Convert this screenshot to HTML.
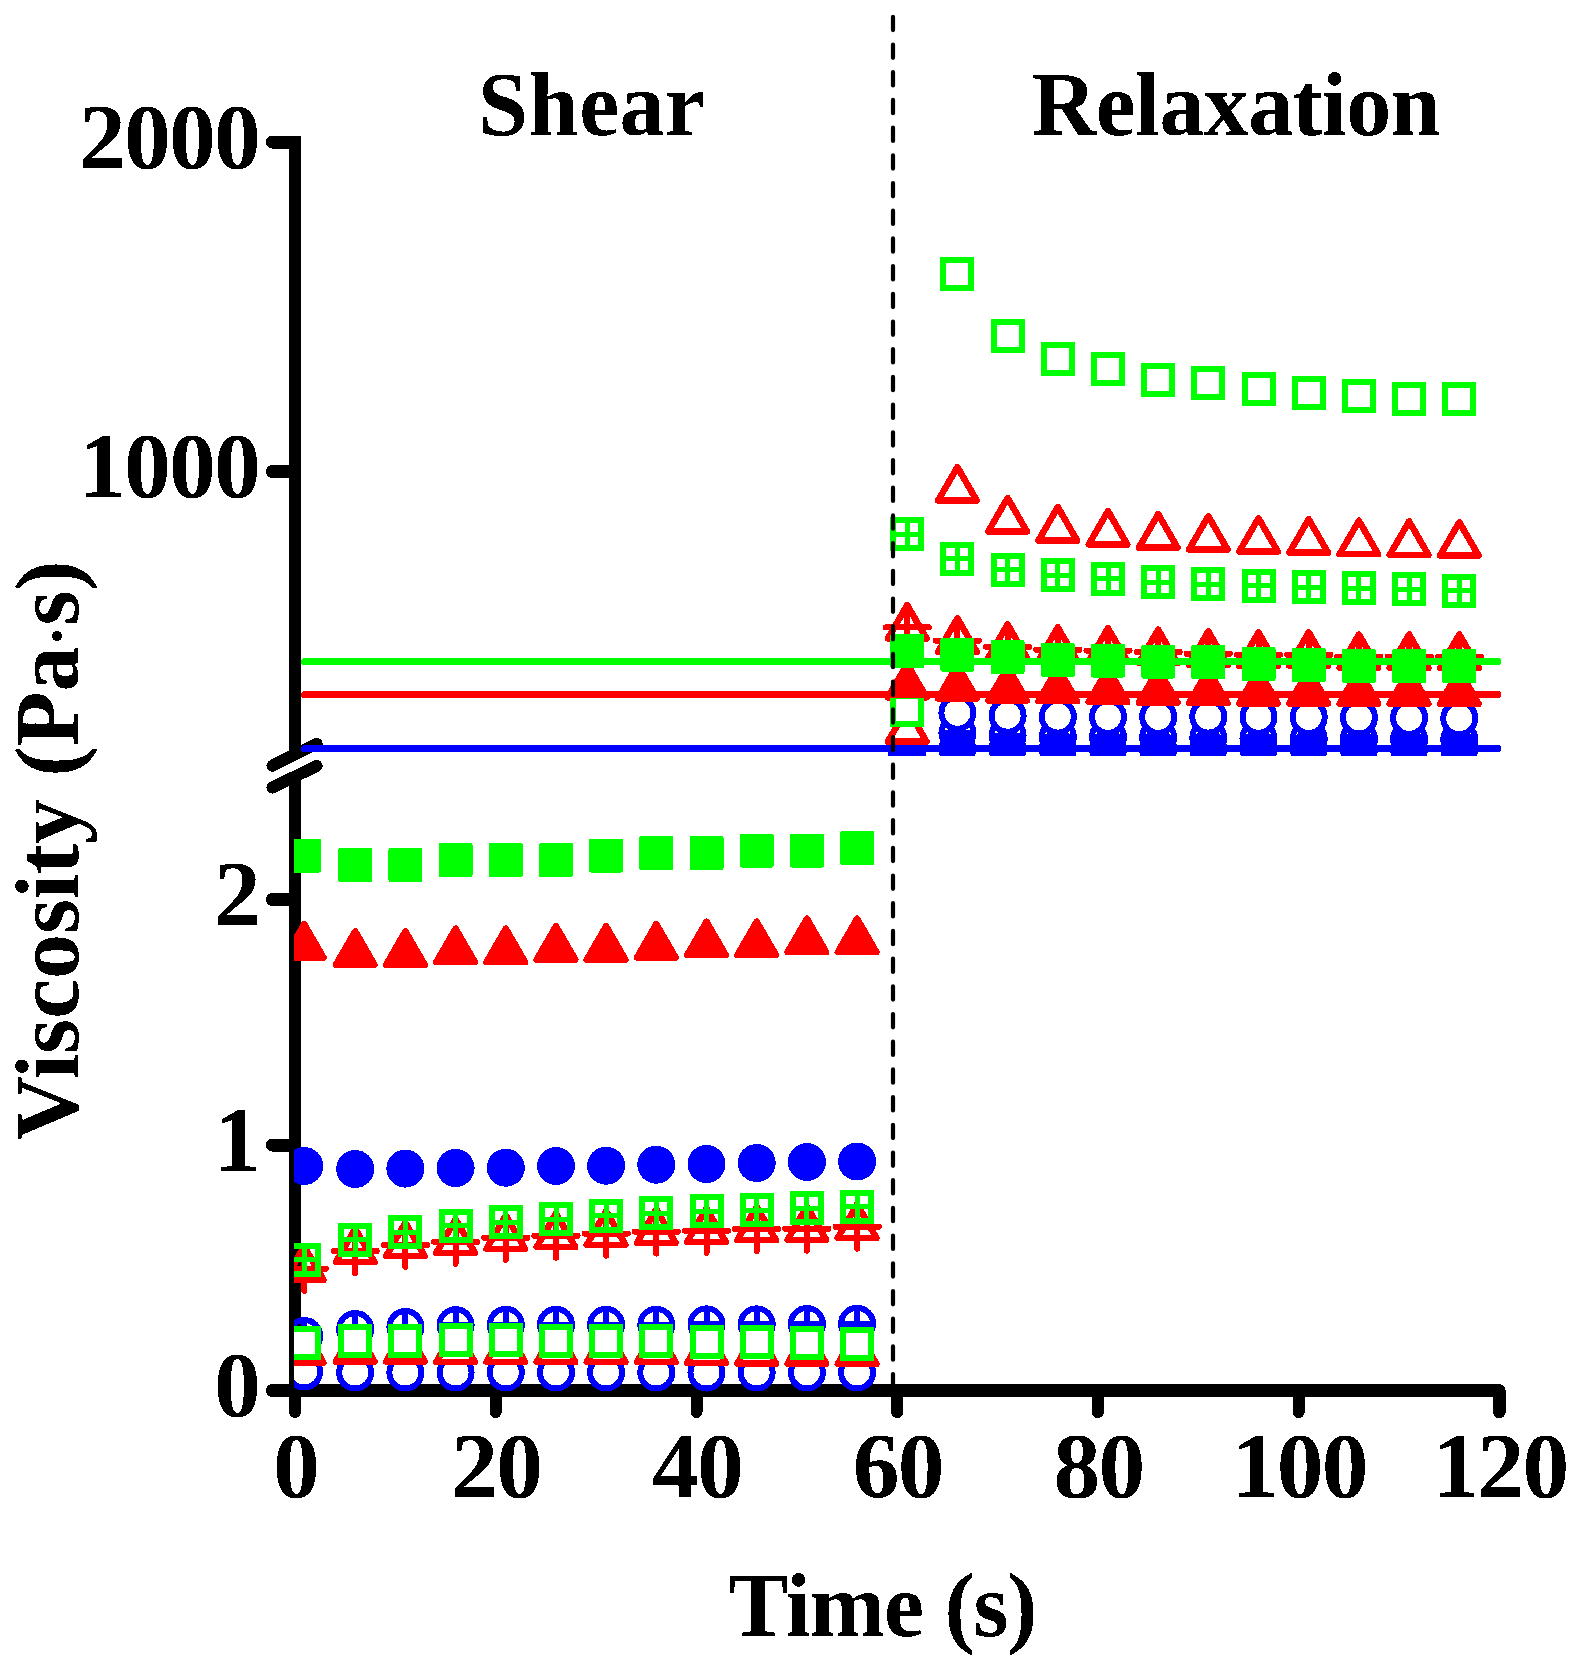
<!DOCTYPE html>
<html lang="en">
<head>
<meta charset="utf-8">
<title>Viscosity vs Time: Shear and Relaxation</title>
<style>
html,body{margin:0;padding:0;background:#fff;}
body{width:1578px;height:1670px;overflow:hidden;}
svg{display:block;}
</style>
</head>
<body>
<svg width="1578" height="1670" viewBox="0 0 1578 1670" shape-rendering="crispEdges">
<defs>
<clipPath id="clipLo"><rect x="294" y="776" width="1300" height="700"/></clipPath>
<filter id="crisp" x="-5%" y="-5%" width="110%" height="110%" color-interpolation-filters="sRGB"><feComponentTransfer><feFuncA type="discrete" tableValues="0 1"/></feComponentTransfer></filter>
<clipPath id="clipHi"><rect x="294" y="100" width="1300" height="656"/></clipPath>
</defs>
<rect width="1578" height="1670" fill="#fff"/>
<g stroke="#000" stroke-width="12" fill="none">
<path d="M295 136V757"/>
<path d="M295 776V1390.5"/>
<path d="M289 1390.5H1499.4" stroke-width="12.6"/>
</g>
<g stroke="#000" stroke-width="12" stroke-linecap="round" stroke-linejoin="round" fill="none">
<path d="M272.5 142H295" stroke-width="13"/>
<path d="M272.5 471.5H295" stroke-width="13"/>
<path d="M272.5 899.5H295" stroke-width="13"/>
<path d="M272.5 1145H295" stroke-width="13"/>
<path d="M272 1390.5H295" stroke-width="12.6"/>
<path d="M295 1390.5V1412"/>
<path d="M495.7 1390.5V1412"/>
<path d="M696.5 1390.5V1412"/>
<path d="M897.2 1390.5V1412"/>
<path d="M1097.9 1390.5V1412"/>
<path d="M1298.7 1390.5V1412"/>
<path d="M1499.4 1390.5V1412"/>
<path d="M1480 1390.5H1499.4V1412" stroke-width="12.6"/>
<path d="M272.5 765.7L316.6 743.7"/>
<path d="M272.5 787.5L316.6 765.9"/>
</g>
<g clip-path="url(#clipLo)">
<g><circle cx="304.2" cy="1166" r="19" fill="#0000ff"/><circle cx="355.2" cy="1169" r="19" fill="#0000ff"/><circle cx="405.4" cy="1168.6" r="19" fill="#0000ff"/><circle cx="455.6" cy="1168" r="19" fill="#0000ff"/><circle cx="505.8" cy="1167.7" r="19" fill="#0000ff"/><circle cx="556" cy="1166" r="19" fill="#0000ff"/><circle cx="606.1" cy="1165.7" r="19" fill="#0000ff"/><circle cx="656.3" cy="1164.7" r="19" fill="#0000ff"/><circle cx="706.5" cy="1164" r="19" fill="#0000ff"/><circle cx="756.7" cy="1163" r="19" fill="#0000ff"/><circle cx="806.9" cy="1162" r="19" fill="#0000ff"/><circle cx="857.1" cy="1161.5" r="19" fill="#0000ff"/></g>
<g><g stroke="#0000ff" stroke-width="6" fill="none"><circle cx="304.2" cy="1336" r="16"/><path d="M288.2 1336H320.2M304.2 1320V1352"/></g><g stroke="#0000ff" stroke-width="6" fill="none"><circle cx="355.2" cy="1329" r="16"/><path d="M339.2 1329H371.2M355.2 1313V1345"/></g><g stroke="#0000ff" stroke-width="6" fill="none"><circle cx="405.4" cy="1327" r="16"/><path d="M389.4 1327H421.4M405.4 1311V1343"/></g><g stroke="#0000ff" stroke-width="6" fill="none"><circle cx="455.6" cy="1325.2" r="16"/><path d="M439.6 1325.2H471.6M455.6 1309.2V1341.2"/></g><g stroke="#0000ff" stroke-width="6" fill="none"><circle cx="505.8" cy="1324.8" r="16"/><path d="M489.8 1324.8H521.8M505.8 1308.8V1340.8"/></g><g stroke="#0000ff" stroke-width="6" fill="none"><circle cx="556" cy="1324.8" r="16"/><path d="M540 1324.8H572M556 1308.8V1340.8"/></g><g stroke="#0000ff" stroke-width="6" fill="none"><circle cx="606.1" cy="1324.8" r="16"/><path d="M590.1 1324.8H622.1M606.1 1308.8V1340.8"/></g><g stroke="#0000ff" stroke-width="6" fill="none"><circle cx="656.3" cy="1324.8" r="16"/><path d="M640.3 1324.8H672.3M656.3 1308.8V1340.8"/></g><g stroke="#0000ff" stroke-width="6" fill="none"><circle cx="706.5" cy="1324.4" r="16"/><path d="M690.5 1324.4H722.5M706.5 1308.4V1340.4"/></g><g stroke="#0000ff" stroke-width="6" fill="none"><circle cx="756.7" cy="1324.4" r="16"/><path d="M740.7 1324.4H772.7M756.7 1308.4V1340.4"/></g><g stroke="#0000ff" stroke-width="6" fill="none"><circle cx="806.9" cy="1324" r="16"/><path d="M790.9 1324H822.9M806.9 1308V1340"/></g><g stroke="#0000ff" stroke-width="6" fill="none"><circle cx="857.1" cy="1323.8" r="16"/><path d="M841.1 1323.8H873.1M857.1 1307.8V1339.8"/></g></g>
<g><circle cx="304.2" cy="1371.5" r="16" fill="#fff" stroke="#0000ff" stroke-width="6"/><circle cx="355.2" cy="1372.5" r="16" fill="#fff" stroke="#0000ff" stroke-width="6"/><circle cx="405.4" cy="1372.5" r="16" fill="#fff" stroke="#0000ff" stroke-width="6"/><circle cx="455.6" cy="1372.5" r="16" fill="#fff" stroke="#0000ff" stroke-width="6"/><circle cx="505.8" cy="1372.5" r="16" fill="#fff" stroke="#0000ff" stroke-width="6"/><circle cx="556" cy="1372.5" r="16" fill="#fff" stroke="#0000ff" stroke-width="6"/><circle cx="606.1" cy="1372.5" r="16" fill="#fff" stroke="#0000ff" stroke-width="6"/><circle cx="656.3" cy="1372.5" r="16" fill="#fff" stroke="#0000ff" stroke-width="6"/><circle cx="706.5" cy="1372.5" r="16" fill="#fff" stroke="#0000ff" stroke-width="6"/><circle cx="756.7" cy="1372.5" r="16" fill="#fff" stroke="#0000ff" stroke-width="6"/><circle cx="806.9" cy="1372.5" r="16" fill="#fff" stroke="#0000ff" stroke-width="6"/><circle cx="857.1" cy="1372.5" r="16" fill="#fff" stroke="#0000ff" stroke-width="6"/></g>
<g><polygon points="304.2,924.2 284.9,957.6 323.5,957.6" fill="#ff0000" stroke="#ff0000" stroke-width="6.5" stroke-linejoin="round"/><polygon points="355.2,931.3 335.9,964.8 374.5,964.8" fill="#ff0000" stroke="#ff0000" stroke-width="6.5" stroke-linejoin="round"/><polygon points="405.4,931.3 386.1,964.8 424.7,964.8" fill="#ff0000" stroke="#ff0000" stroke-width="6.5" stroke-linejoin="round"/><polygon points="455.6,928.7 436.3,962.1 474.9,962.1" fill="#ff0000" stroke="#ff0000" stroke-width="6.5" stroke-linejoin="round"/><polygon points="505.8,928.7 486.5,962.1 525.1,962.1" fill="#ff0000" stroke="#ff0000" stroke-width="6.5" stroke-linejoin="round"/><polygon points="556,926.2 536.7,959.6 575.3,959.6" fill="#ff0000" stroke="#ff0000" stroke-width="6.5" stroke-linejoin="round"/><polygon points="606.1,926.2 586.8,959.6 625.4,959.6" fill="#ff0000" stroke="#ff0000" stroke-width="6.5" stroke-linejoin="round"/><polygon points="656.3,924.1 637,957.5 675.6,957.5" fill="#ff0000" stroke="#ff0000" stroke-width="6.5" stroke-linejoin="round"/><polygon points="706.5,921.7 687.2,955.1 725.8,955.1" fill="#ff0000" stroke="#ff0000" stroke-width="6.5" stroke-linejoin="round"/><polygon points="756.7,921.7 737.4,955.1 776,955.1" fill="#ff0000" stroke="#ff0000" stroke-width="6.5" stroke-linejoin="round"/><polygon points="806.9,918.7 787.6,952.1 826.2,952.1" fill="#ff0000" stroke="#ff0000" stroke-width="6.5" stroke-linejoin="round"/><polygon points="857.1,918.7 837.8,952.1 876.4,952.1" fill="#ff0000" stroke="#ff0000" stroke-width="6.5" stroke-linejoin="round"/></g>
<g><g stroke="#ff0000" fill="none" stroke-linejoin="round" stroke-linecap="round"><polygon points="304.2,1246.4 284.9,1279.9 323.5,1279.9" stroke-width="6.5"/><path stroke-width="6" d="M282.6 1268.7H325.8M304.2 1246.7V1290.7"/></g><g stroke="#ff0000" fill="none" stroke-linejoin="round" stroke-linecap="round"><polygon points="355.2,1228.7 335.9,1262.2 374.5,1262.2" stroke-width="6.5"/><path stroke-width="6" d="M333.6 1251H376.8M355.2 1229V1273"/></g><g stroke="#ff0000" fill="none" stroke-linejoin="round" stroke-linecap="round"><polygon points="405.4,1222.7 386.1,1256.2 424.7,1256.2" stroke-width="6.5"/><path stroke-width="6" d="M383.8 1245H427M405.4 1223V1267"/></g><g stroke="#ff0000" fill="none" stroke-linejoin="round" stroke-linecap="round"><polygon points="455.6,1219.4 436.3,1252.9 474.9,1252.9" stroke-width="6.5"/><path stroke-width="6" d="M434 1241.7H477.2M455.6 1219.7V1263.7"/></g><g stroke="#ff0000" fill="none" stroke-linejoin="round" stroke-linecap="round"><polygon points="505.8,1215.5 486.5,1249 525.1,1249" stroke-width="6.5"/><path stroke-width="6" d="M484.2 1237.8H527.4M505.8 1215.8V1259.8"/></g><g stroke="#ff0000" fill="none" stroke-linejoin="round" stroke-linecap="round"><polygon points="556,1213.5 536.7,1247 575.3,1247" stroke-width="6.5"/><path stroke-width="6" d="M534.4 1235.8H577.6M556 1213.8V1257.8"/></g><g stroke="#ff0000" fill="none" stroke-linejoin="round" stroke-linecap="round"><polygon points="606.1,1211.3 586.8,1244.8 625.4,1244.8" stroke-width="6.5"/><path stroke-width="6" d="M584.5 1233.6H627.7M606.1 1211.6V1255.6"/></g><g stroke="#ff0000" fill="none" stroke-linejoin="round" stroke-linecap="round"><polygon points="656.3,1209.3 637,1242.8 675.6,1242.8" stroke-width="6.5"/><path stroke-width="6" d="M634.7 1231.6H677.9M656.3 1209.6V1253.6"/></g><g stroke="#ff0000" fill="none" stroke-linejoin="round" stroke-linecap="round"><polygon points="706.5,1208.4 687.2,1241.9 725.8,1241.9" stroke-width="6.5"/><path stroke-width="6" d="M684.9 1230.7H728.1M706.5 1208.7V1252.7"/></g><g stroke="#ff0000" fill="none" stroke-linejoin="round" stroke-linecap="round"><polygon points="756.7,1206.8 737.4,1240.2 776,1240.2" stroke-width="6.5"/><path stroke-width="6" d="M735.1 1229.1H778.3M756.7 1207.1V1251.1"/></g><g stroke="#ff0000" fill="none" stroke-linejoin="round" stroke-linecap="round"><polygon points="806.9,1206.4 787.6,1239.9 826.2,1239.9" stroke-width="6.5"/><path stroke-width="6" d="M785.3 1228.7H828.5M806.9 1206.7V1250.7"/></g><g stroke="#ff0000" fill="none" stroke-linejoin="round" stroke-linecap="round"><polygon points="857.1,1204.4 837.8,1237.9 876.4,1237.9" stroke-width="6.5"/><path stroke-width="6" d="M835.5 1226.7H878.7M857.1 1204.7V1248.7"/></g></g>
<g><polygon points="304.2,1329.2 284.9,1362.7 323.5,1362.7" fill="#fff" stroke="#ff0000" stroke-width="6.5" stroke-linejoin="round"/><polygon points="355.2,1328.1 335.9,1361.6 374.5,1361.6" fill="#fff" stroke="#ff0000" stroke-width="6.5" stroke-linejoin="round"/><polygon points="405.4,1328.1 386.1,1361.6 424.7,1361.6" fill="#fff" stroke="#ff0000" stroke-width="6.5" stroke-linejoin="round"/><polygon points="455.6,1328.5 436.3,1362 474.9,1362" fill="#fff" stroke="#ff0000" stroke-width="6.5" stroke-linejoin="round"/><polygon points="505.8,1328.5 486.5,1362 525.1,1362" fill="#fff" stroke="#ff0000" stroke-width="6.5" stroke-linejoin="round"/><polygon points="556,1328.5 536.7,1362 575.3,1362" fill="#fff" stroke="#ff0000" stroke-width="6.5" stroke-linejoin="round"/><polygon points="606.1,1328.5 586.8,1362 625.4,1362" fill="#fff" stroke="#ff0000" stroke-width="6.5" stroke-linejoin="round"/><polygon points="656.3,1328.5 637,1362 675.6,1362" fill="#fff" stroke="#ff0000" stroke-width="6.5" stroke-linejoin="round"/><polygon points="706.5,1329.5 687.2,1363 725.8,1363" fill="#fff" stroke="#ff0000" stroke-width="6.5" stroke-linejoin="round"/><polygon points="756.7,1330.1 737.4,1363.6 776,1363.6" fill="#fff" stroke="#ff0000" stroke-width="6.5" stroke-linejoin="round"/><polygon points="806.9,1330.1 787.6,1363.6 826.2,1363.6" fill="#fff" stroke="#ff0000" stroke-width="6.5" stroke-linejoin="round"/><polygon points="857.1,1330.5 837.8,1364 876.4,1364" fill="#fff" stroke="#ff0000" stroke-width="6.5" stroke-linejoin="round"/></g>
<g><rect x="287.2" y="838.5" width="34" height="34" rx="2" fill="#00ff00"/><rect x="338.2" y="848" width="34" height="34" rx="2" fill="#00ff00"/><rect x="388.4" y="848" width="34" height="34" rx="2" fill="#00ff00"/><rect x="438.6" y="843" width="34" height="34" rx="2" fill="#00ff00"/><rect x="488.8" y="843" width="34" height="34" rx="2" fill="#00ff00"/><rect x="539" y="843" width="34" height="34" rx="2" fill="#00ff00"/><rect x="589.1" y="838.5" width="34" height="34" rx="2" fill="#00ff00"/><rect x="639.3" y="836" width="34" height="34" rx="2" fill="#00ff00"/><rect x="689.5" y="836" width="34" height="34" rx="2" fill="#00ff00"/><rect x="739.7" y="833.5" width="34" height="34" rx="2" fill="#00ff00"/><rect x="789.9" y="833.5" width="34" height="34" rx="2" fill="#00ff00"/><rect x="840.1" y="831" width="34" height="34" rx="2" fill="#00ff00"/></g>
<g><g stroke="#00ff00" fill="none"><rect x="290.2" y="1245.5" width="28" height="28" stroke-width="6"/><path stroke-width="5" d="M290.2 1259.5H318.2M304.2 1245.5V1273.5"/></g><g stroke="#00ff00" fill="none"><rect x="341.2" y="1225.6" width="28" height="28" stroke-width="6"/><path stroke-width="5" d="M341.2 1239.6H369.2M355.2 1225.6V1253.6"/></g><g stroke="#00ff00" fill="none"><rect x="391.4" y="1218" width="28" height="28" stroke-width="6"/><path stroke-width="5" d="M391.4 1232H419.4M405.4 1218V1246"/></g><g stroke="#00ff00" fill="none"><rect x="441.6" y="1211.8" width="28" height="28" stroke-width="6"/><path stroke-width="5" d="M441.6 1225.8H469.6M455.6 1211.8V1239.8"/></g><g stroke="#00ff00" fill="none"><rect x="491.8" y="1208" width="28" height="28" stroke-width="6"/><path stroke-width="5" d="M491.8 1222H519.8M505.8 1208V1236"/></g><g stroke="#00ff00" fill="none"><rect x="542" y="1205" width="28" height="28" stroke-width="6"/><path stroke-width="5" d="M542 1219H570M556 1205V1233"/></g><g stroke="#00ff00" fill="none"><rect x="592.1" y="1201.6" width="28" height="28" stroke-width="6"/><path stroke-width="5" d="M592.1 1215.6H620.1M606.1 1201.6V1229.6"/></g><g stroke="#00ff00" fill="none"><rect x="642.3" y="1199" width="28" height="28" stroke-width="6"/><path stroke-width="5" d="M642.3 1213H670.3M656.3 1199V1227"/></g><g stroke="#00ff00" fill="none"><rect x="692.5" y="1197" width="28" height="28" stroke-width="6"/><path stroke-width="5" d="M692.5 1211H720.5M706.5 1197V1225"/></g><g stroke="#00ff00" fill="none"><rect x="742.7" y="1196" width="28" height="28" stroke-width="6"/><path stroke-width="5" d="M742.7 1210H770.7M756.7 1196V1224"/></g><g stroke="#00ff00" fill="none"><rect x="792.9" y="1194" width="28" height="28" stroke-width="6"/><path stroke-width="5" d="M792.9 1208H820.9M806.9 1194V1222"/></g><g stroke="#00ff00" fill="none"><rect x="843.1" y="1192.8" width="28" height="28" stroke-width="6"/><path stroke-width="5" d="M843.1 1206.8H871.1M857.1 1192.8V1220.8"/></g></g>
<g><rect x="290.2" y="1329" width="28" height="28" fill="#fff" stroke="#00ff00" stroke-width="6"/><rect x="341.2" y="1327" width="28" height="28" fill="#fff" stroke="#00ff00" stroke-width="6"/><rect x="391.4" y="1327" width="28" height="28" fill="#fff" stroke="#00ff00" stroke-width="6"/><rect x="441.6" y="1326" width="28" height="28" fill="#fff" stroke="#00ff00" stroke-width="6"/><rect x="491.8" y="1326" width="28" height="28" fill="#fff" stroke="#00ff00" stroke-width="6"/><rect x="542" y="1326.5" width="28" height="28" fill="#fff" stroke="#00ff00" stroke-width="6"/><rect x="592.1" y="1327.1" width="28" height="28" fill="#fff" stroke="#00ff00" stroke-width="6"/><rect x="642.3" y="1327.1" width="28" height="28" fill="#fff" stroke="#00ff00" stroke-width="6"/><rect x="692.5" y="1328.1" width="28" height="28" fill="#fff" stroke="#00ff00" stroke-width="6"/><rect x="742.7" y="1328.1" width="28" height="28" fill="#fff" stroke="#00ff00" stroke-width="6"/><rect x="792.9" y="1329.1" width="28" height="28" fill="#fff" stroke="#00ff00" stroke-width="6"/><rect x="843.1" y="1329.5" width="28" height="28" fill="#fff" stroke="#00ff00" stroke-width="6"/></g>
</g>
<g clip-path="url(#clipHi)">
<g><circle cx="907.2" cy="754" r="19" fill="#0000ff"/><circle cx="957.4" cy="749" r="19" fill="#0000ff"/><circle cx="1007.6" cy="749" r="19" fill="#0000ff"/><circle cx="1057.8" cy="749" r="19" fill="#0000ff"/><circle cx="1108" cy="749" r="19" fill="#0000ff"/><circle cx="1158.2" cy="749" r="19" fill="#0000ff"/><circle cx="1208.3" cy="749" r="19" fill="#0000ff"/><circle cx="1258.5" cy="749" r="19" fill="#0000ff"/><circle cx="1308.7" cy="749" r="19" fill="#0000ff"/><circle cx="1358.9" cy="749" r="19" fill="#0000ff"/><circle cx="1409.1" cy="749" r="19" fill="#0000ff"/><circle cx="1459.3" cy="749" r="19" fill="#0000ff"/></g>
<g><g stroke="#0000ff" stroke-width="6" fill="none"><circle cx="907.2" cy="790" r="16"/><path d="M891.2 790H923.2M907.2 774V806"/></g><g stroke="#0000ff" stroke-width="6" fill="none"><circle cx="957.4" cy="733" r="16"/><path d="M941.4 733H973.4M957.4 717V749"/></g><g stroke="#0000ff" stroke-width="6" fill="none"><circle cx="1007.6" cy="735.5" r="16"/><path d="M991.6 735.5H1023.6M1007.6 719.5V751.5"/></g><g stroke="#0000ff" stroke-width="6" fill="none"><circle cx="1057.8" cy="737" r="16"/><path d="M1041.8 737H1073.8M1057.8 721V753"/></g><g stroke="#0000ff" stroke-width="6" fill="none"><circle cx="1108" cy="737" r="16"/><path d="M1092 737H1124M1108 721V753"/></g><g stroke="#0000ff" stroke-width="6" fill="none"><circle cx="1158.2" cy="737.5" r="16"/><path d="M1142.2 737.5H1174.2M1158.2 721.5V753.5"/></g><g stroke="#0000ff" stroke-width="6" fill="none"><circle cx="1208.3" cy="738" r="16"/><path d="M1192.3 738H1224.3M1208.3 722V754"/></g><g stroke="#0000ff" stroke-width="6" fill="none"><circle cx="1258.5" cy="738.5" r="16"/><path d="M1242.5 738.5H1274.5M1258.5 722.5V754.5"/></g><g stroke="#0000ff" stroke-width="6" fill="none"><circle cx="1308.7" cy="739" r="16"/><path d="M1292.7 739H1324.7M1308.7 723V755"/></g><g stroke="#0000ff" stroke-width="6" fill="none"><circle cx="1358.9" cy="739" r="16"/><path d="M1342.9 739H1374.9M1358.9 723V755"/></g><g stroke="#0000ff" stroke-width="6" fill="none"><circle cx="1409.1" cy="739.5" r="16"/><path d="M1393.1 739.5H1425.1M1409.1 723.5V755.5"/></g><g stroke="#0000ff" stroke-width="6" fill="none"><circle cx="1459.3" cy="739.5" r="16"/><path d="M1443.3 739.5H1475.3M1459.3 723.5V755.5"/></g></g>
<g><circle cx="907.2" cy="790" r="16" fill="#fff" stroke="#0000ff" stroke-width="6"/><circle cx="957.4" cy="712.8" r="16" fill="#fff" stroke="#0000ff" stroke-width="6"/><circle cx="1007.6" cy="715.7" r="16" fill="#fff" stroke="#0000ff" stroke-width="6"/><circle cx="1057.8" cy="716.6" r="16" fill="#fff" stroke="#0000ff" stroke-width="6"/><circle cx="1108" cy="716.9" r="16" fill="#fff" stroke="#0000ff" stroke-width="6"/><circle cx="1158.2" cy="716.8" r="16" fill="#fff" stroke="#0000ff" stroke-width="6"/><circle cx="1208.3" cy="716.6" r="16" fill="#fff" stroke="#0000ff" stroke-width="6"/><circle cx="1258.5" cy="716.8" r="16" fill="#fff" stroke="#0000ff" stroke-width="6"/><circle cx="1308.7" cy="717" r="16" fill="#fff" stroke="#0000ff" stroke-width="6"/><circle cx="1358.9" cy="717.4" r="16" fill="#fff" stroke="#0000ff" stroke-width="6"/><circle cx="1409.1" cy="717.8" r="16" fill="#fff" stroke="#0000ff" stroke-width="6"/><circle cx="1459.3" cy="718.2" r="16" fill="#fff" stroke="#0000ff" stroke-width="6"/></g>
<g><polygon points="907.2,664 887.9,697.4 926.5,697.4" fill="#ff0000" stroke="#ff0000" stroke-width="6.5" stroke-linejoin="round"/><polygon points="957.4,665.1 938.1,698.5 976.7,698.5" fill="#ff0000" stroke="#ff0000" stroke-width="6.5" stroke-linejoin="round"/><polygon points="1007.6,667.1 988.3,700.5 1026.9,700.5" fill="#ff0000" stroke="#ff0000" stroke-width="6.5" stroke-linejoin="round"/><polygon points="1057.8,667.7 1038.5,701.1 1077.1,701.1" fill="#ff0000" stroke="#ff0000" stroke-width="6.5" stroke-linejoin="round"/><polygon points="1108,668.6 1088.7,702 1127.3,702" fill="#ff0000" stroke="#ff0000" stroke-width="6.5" stroke-linejoin="round"/><polygon points="1158.2,669.2 1138.9,702.6 1177.5,702.6" fill="#ff0000" stroke="#ff0000" stroke-width="6.5" stroke-linejoin="round"/><polygon points="1208.3,669.7 1189,703.1 1227.6,703.1" fill="#ff0000" stroke="#ff0000" stroke-width="6.5" stroke-linejoin="round"/><polygon points="1258.5,670 1239.2,703.4 1277.8,703.4" fill="#ff0000" stroke="#ff0000" stroke-width="6.5" stroke-linejoin="round"/><polygon points="1308.7,670 1289.4,703.4 1328,703.4" fill="#ff0000" stroke="#ff0000" stroke-width="6.5" stroke-linejoin="round"/><polygon points="1358.9,670.1 1339.6,703.5 1378.2,703.5" fill="#ff0000" stroke="#ff0000" stroke-width="6.5" stroke-linejoin="round"/><polygon points="1409.1,670.2 1389.8,703.6 1428.4,703.6" fill="#ff0000" stroke="#ff0000" stroke-width="6.5" stroke-linejoin="round"/><polygon points="1459.3,670.3 1440,703.8 1478.6,703.8" fill="#ff0000" stroke="#ff0000" stroke-width="6.5" stroke-linejoin="round"/></g>
<g><g stroke="#ff0000" fill="none" stroke-linejoin="round" stroke-linecap="round"><polygon points="907.2,605.1 887.9,638.5 926.5,638.5" stroke-width="6.5"/><path stroke-width="6" d="M885.6 627.4H928.8M907.2 605.4V649.4"/></g><g stroke="#ff0000" fill="none" stroke-linejoin="round" stroke-linecap="round"><polygon points="957.4,618.3 938.1,651.8 976.7,651.8" stroke-width="6.5"/><path stroke-width="6" d="M935.8 640.6H979M957.4 618.6V662.6"/></g><g stroke="#ff0000" fill="none" stroke-linejoin="round" stroke-linecap="round"><polygon points="1007.6,624.4 988.3,657.9 1026.9,657.9" stroke-width="6.5"/><path stroke-width="6" d="M986 646.7H1029.2M1007.6 624.7V668.7"/></g><g stroke="#ff0000" fill="none" stroke-linejoin="round" stroke-linecap="round"><polygon points="1057.8,627.4 1038.5,660.9 1077.1,660.9" stroke-width="6.5"/><path stroke-width="6" d="M1036.2 649.7H1079.4M1057.8 627.7V671.7"/></g><g stroke="#ff0000" fill="none" stroke-linejoin="round" stroke-linecap="round"><polygon points="1108,628.2 1088.7,661.6 1127.3,661.6" stroke-width="6.5"/><path stroke-width="6" d="M1086.4 650.5H1129.6M1108 628.5V672.5"/></g><g stroke="#ff0000" fill="none" stroke-linejoin="round" stroke-linecap="round"><polygon points="1158.2,629.7 1138.9,663.1 1177.5,663.1" stroke-width="6.5"/><path stroke-width="6" d="M1136.6 652H1179.8M1158.2 630V674"/></g><g stroke="#ff0000" fill="none" stroke-linejoin="round" stroke-linecap="round"><polygon points="1208.3,631.4 1189,664.9 1227.6,664.9" stroke-width="6.5"/><path stroke-width="6" d="M1186.7 653.7H1229.9M1208.3 631.7V675.7"/></g><g stroke="#ff0000" fill="none" stroke-linejoin="round" stroke-linecap="round"><polygon points="1258.5,632.4 1239.2,665.9 1277.8,665.9" stroke-width="6.5"/><path stroke-width="6" d="M1236.9 654.7H1280.1M1258.5 632.7V676.7"/></g><g stroke="#ff0000" fill="none" stroke-linejoin="round" stroke-linecap="round"><polygon points="1308.7,632.4 1289.4,665.9 1328,665.9" stroke-width="6.5"/><path stroke-width="6" d="M1287.1 654.7H1330.3M1308.7 632.7V676.7"/></g><g stroke="#ff0000" fill="none" stroke-linejoin="round" stroke-linecap="round"><polygon points="1358.9,634.5 1339.6,667.9 1378.2,667.9" stroke-width="6.5"/><path stroke-width="6" d="M1337.3 656.8H1380.5M1358.9 634.8V678.8"/></g><g stroke="#ff0000" fill="none" stroke-linejoin="round" stroke-linecap="round"><polygon points="1409.1,634.5 1389.8,667.9 1428.4,667.9" stroke-width="6.5"/><path stroke-width="6" d="M1387.5 656.8H1430.7M1409.1 634.8V678.8"/></g><g stroke="#ff0000" fill="none" stroke-linejoin="round" stroke-linecap="round"><polygon points="1459.3,634.5 1440,667.9 1478.6,667.9" stroke-width="6.5"/><path stroke-width="6" d="M1437.7 656.8H1480.9M1459.3 634.8V678.8"/></g></g>
<g><polygon points="907.2,708.2 887.9,741.6 926.5,741.6" fill="#fff" stroke="#ff0000" stroke-width="6.5" stroke-linejoin="round"/><polygon points="957.4,467.1 938.1,500.5 976.7,500.5" fill="#fff" stroke="#ff0000" stroke-width="6.5" stroke-linejoin="round"/><polygon points="1007.6,498 988.3,531.4 1026.9,531.4" fill="#fff" stroke="#ff0000" stroke-width="6.5" stroke-linejoin="round"/><polygon points="1057.8,507.1 1038.5,540.5 1077.1,540.5" fill="#fff" stroke="#ff0000" stroke-width="6.5" stroke-linejoin="round"/><polygon points="1108,511.1 1088.7,544.5 1127.3,544.5" fill="#fff" stroke="#ff0000" stroke-width="6.5" stroke-linejoin="round"/><polygon points="1158.2,514.2 1138.9,547.6 1177.5,547.6" fill="#fff" stroke="#ff0000" stroke-width="6.5" stroke-linejoin="round"/><polygon points="1208.3,516.2 1189,549.6 1227.6,549.6" fill="#fff" stroke="#ff0000" stroke-width="6.5" stroke-linejoin="round"/><polygon points="1258.5,518.2 1239.2,551.6 1277.8,551.6" fill="#fff" stroke="#ff0000" stroke-width="6.5" stroke-linejoin="round"/><polygon points="1308.7,519.2 1289.4,552.6 1328,552.6" fill="#fff" stroke="#ff0000" stroke-width="6.5" stroke-linejoin="round"/><polygon points="1358.9,520.8 1339.6,554.2 1378.2,554.2" fill="#fff" stroke="#ff0000" stroke-width="6.5" stroke-linejoin="round"/><polygon points="1409.1,521.4 1389.8,554.9 1428.4,554.9" fill="#fff" stroke="#ff0000" stroke-width="6.5" stroke-linejoin="round"/><polygon points="1459.3,522.2 1440,555.6 1478.6,555.6" fill="#fff" stroke="#ff0000" stroke-width="6.5" stroke-linejoin="round"/></g>
<g><rect x="890.2" y="634" width="34" height="34" rx="2" fill="#00ff00"/><rect x="940.4" y="637.7" width="34" height="34" rx="2" fill="#00ff00"/><rect x="990.6" y="640" width="34" height="34" rx="2" fill="#00ff00"/><rect x="1040.8" y="642.8" width="34" height="34" rx="2" fill="#00ff00"/><rect x="1091" y="643.5" width="34" height="34" rx="2" fill="#00ff00"/><rect x="1141.2" y="644.5" width="34" height="34" rx="2" fill="#00ff00"/><rect x="1191.3" y="645" width="34" height="34" rx="2" fill="#00ff00"/><rect x="1241.5" y="647" width="34" height="34" rx="2" fill="#00ff00"/><rect x="1291.7" y="648" width="34" height="34" rx="2" fill="#00ff00"/><rect x="1341.9" y="648.8" width="34" height="34" rx="2" fill="#00ff00"/><rect x="1392.1" y="649" width="34" height="34" rx="2" fill="#00ff00"/><rect x="1442.3" y="649" width="34" height="34" rx="2" fill="#00ff00"/></g>
<g><g stroke="#00ff00" fill="none"><rect x="893.2" y="520" width="28" height="28" stroke-width="6"/><path stroke-width="5" d="M893.2 534H921.2M907.2 520V548"/></g><g stroke="#00ff00" fill="none"><rect x="943.4" y="544.5" width="28" height="28" stroke-width="6"/><path stroke-width="5" d="M943.4 558.5H971.4M957.4 544.5V572.5"/></g><g stroke="#00ff00" fill="none"><rect x="993.6" y="555.5" width="28" height="28" stroke-width="6"/><path stroke-width="5" d="M993.6 569.5H1021.6M1007.6 555.5V583.5"/></g><g stroke="#00ff00" fill="none"><rect x="1043.8" y="561" width="28" height="28" stroke-width="6"/><path stroke-width="5" d="M1043.8 575H1071.8M1057.8 561V589"/></g><g stroke="#00ff00" fill="none"><rect x="1094" y="564.5" width="28" height="28" stroke-width="6"/><path stroke-width="5" d="M1094 578.5H1122M1108 564.5V592.5"/></g><g stroke="#00ff00" fill="none"><rect x="1144.2" y="568" width="28" height="28" stroke-width="6"/><path stroke-width="5" d="M1144.2 582H1172.2M1158.2 568V596"/></g><g stroke="#00ff00" fill="none"><rect x="1194.3" y="570" width="28" height="28" stroke-width="6"/><path stroke-width="5" d="M1194.3 584H1222.3M1208.3 570V598"/></g><g stroke="#00ff00" fill="none"><rect x="1244.5" y="571.5" width="28" height="28" stroke-width="6"/><path stroke-width="5" d="M1244.5 585.5H1272.5M1258.5 571.5V599.5"/></g><g stroke="#00ff00" fill="none"><rect x="1294.7" y="573.3" width="28" height="28" stroke-width="6"/><path stroke-width="5" d="M1294.7 587.3H1322.7M1308.7 573.3V601.3"/></g><g stroke="#00ff00" fill="none"><rect x="1344.9" y="574" width="28" height="28" stroke-width="6"/><path stroke-width="5" d="M1344.9 588H1372.9M1358.9 574V602"/></g><g stroke="#00ff00" fill="none"><rect x="1395.1" y="575.4" width="28" height="28" stroke-width="6"/><path stroke-width="5" d="M1395.1 589.4H1423.1M1409.1 575.4V603.4"/></g><g stroke="#00ff00" fill="none"><rect x="1445.3" y="576.7" width="28" height="28" stroke-width="6"/><path stroke-width="5" d="M1445.3 590.7H1473.3M1459.3 576.7V604.7"/></g></g>
<g><rect x="893.2" y="696.3" width="28" height="28" fill="#fff" stroke="#00ff00" stroke-width="6"/><rect x="943.4" y="259.7" width="28" height="28" fill="#fff" stroke="#00ff00" stroke-width="6"/><rect x="993.6" y="322" width="28" height="28" fill="#fff" stroke="#00ff00" stroke-width="6"/><rect x="1043.8" y="345.4" width="28" height="28" fill="#fff" stroke="#00ff00" stroke-width="6"/><rect x="1094" y="355" width="28" height="28" fill="#fff" stroke="#00ff00" stroke-width="6"/><rect x="1144.2" y="365.5" width="28" height="28" fill="#fff" stroke="#00ff00" stroke-width="6"/><rect x="1194.3" y="369" width="28" height="28" fill="#fff" stroke="#00ff00" stroke-width="6"/><rect x="1244.5" y="375" width="28" height="28" fill="#fff" stroke="#00ff00" stroke-width="6"/><rect x="1294.7" y="378.5" width="28" height="28" fill="#fff" stroke="#00ff00" stroke-width="6"/><rect x="1344.9" y="381.6" width="28" height="28" fill="#fff" stroke="#00ff00" stroke-width="6"/><rect x="1395.1" y="384.8" width="28" height="28" fill="#fff" stroke="#00ff00" stroke-width="6"/><rect x="1445.3" y="384.8" width="28" height="28" fill="#fff" stroke="#00ff00" stroke-width="6"/></g>
</g>
<g stroke-linecap="round" fill="none" stroke-width="7">
<path d="M304.5 661.5H1497.7" stroke="#00ff00"/>
<path d="M304.5 694.6H1497.7" stroke="#ff0000"/>
<path d="M304.5 748.6H1497.7" stroke="#0000ff"/>
</g>
<path d="M893 16.8V1390" stroke="#000" stroke-width="4.2" stroke-linecap="round" stroke-dasharray="13.3 14.4" fill="none" shape-rendering="geometricPrecision"/>
<g filter="url(#crisp)">
<g font-family="'Liberation Serif','Times New Roman',serif" font-weight="bold" font-size="93.5px" letter-spacing="-1.75" fill="#000">
<text x="259" y="167.7" text-anchor="end">2000</text>
<text x="259" y="497.2" text-anchor="end">1000</text>
<text x="259" y="925.1" text-anchor="end">2</text>
<text x="259" y="1170.7" text-anchor="end">1</text>
<text x="259" y="1416.2" text-anchor="end">0</text>
<text x="295.5" y="1496.5" text-anchor="middle">0</text>
<text x="496.2" y="1496.5" text-anchor="middle">20</text>
<text x="697" y="1496.5" text-anchor="middle">40</text>
<text x="897.7" y="1496.5" text-anchor="middle">60</text>
<text x="1098.4" y="1496.5" text-anchor="middle">80</text>
<text x="1299.2" y="1496.5" text-anchor="middle">100</text>
<text x="1499.9" y="1496.5" text-anchor="middle">120</text>
</g>
<g font-family="'Liberation Serif','Times New Roman',serif" font-weight="bold" font-size="90px" fill="#000">
<text x="591.8" y="135" text-anchor="middle" letter-spacing="0.5">Shear</text>
<text x="1235.7" y="135" text-anchor="middle" letter-spacing="-0.65">Relaxation</text>
<text x="882.5" y="1636" text-anchor="middle" letter-spacing="-0.95">Time (s)</text>
<text transform="translate(78 850.5) rotate(-90)" text-anchor="middle">Viscosity (Pa<tspan font-size="63px">·</tspan>s)</text>
</g>
</g>
</svg>
</body>
</html>
